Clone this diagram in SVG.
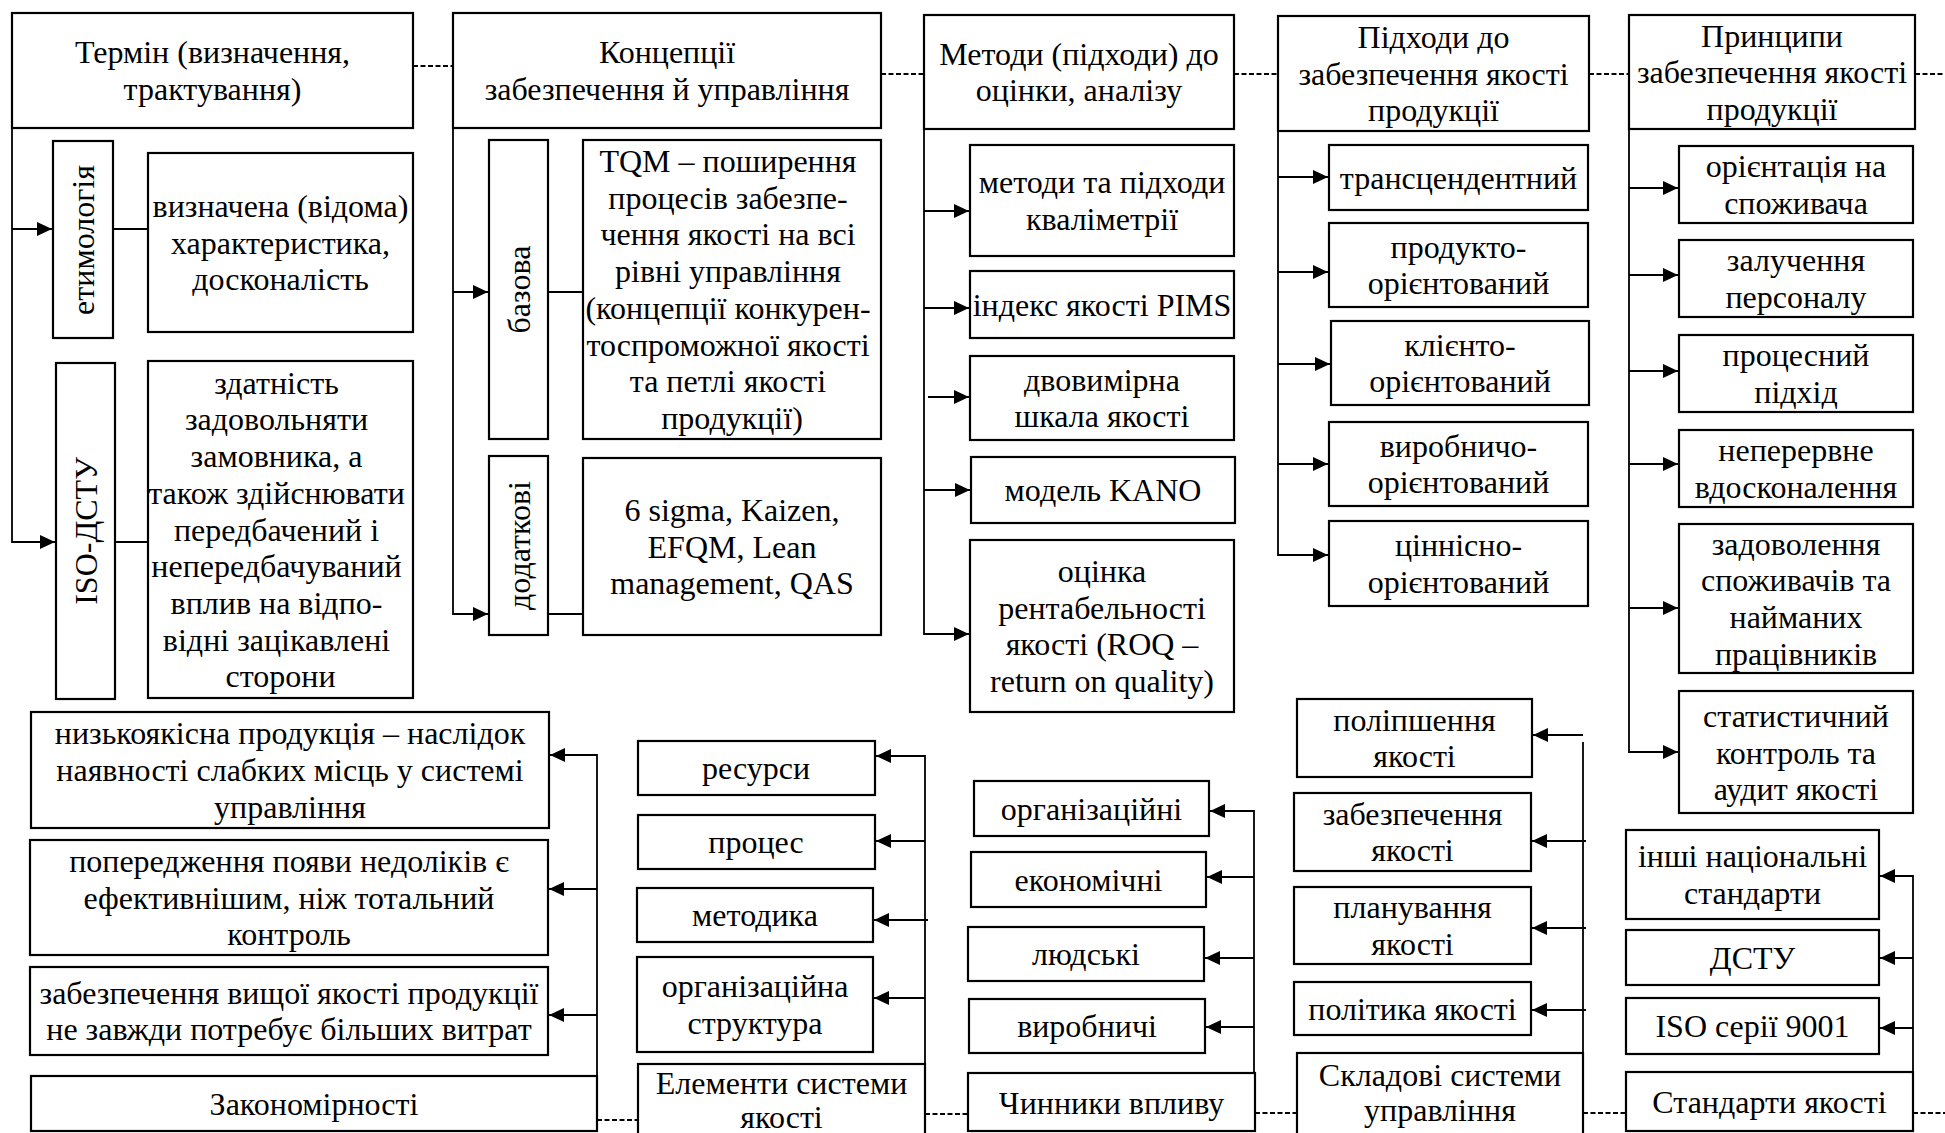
<svg xmlns="http://www.w3.org/2000/svg" width="1945" height="1133" viewBox="0 0 1945 1133">
  <defs>
    <style>
      .box { fill: #fff; stroke: #000; stroke-width: 2.2; }
      .t { font-family: "Liberation Serif", "Times New Roman", serif; font-size: 32px; text-anchor: middle; fill: #000; }
      .ln { fill: none; stroke: #000; stroke-width: 1.8; }
      .ar { fill: none; stroke: #000; stroke-width: 1.8; marker-end: url(#ah); }
      .dl { fill: none; stroke: #000; stroke-width: 1.8; stroke-dasharray: 5 2.5; }
    </style>
    <marker id="ah" viewBox="0 0 15 14" refX="15" refY="7" markerWidth="15" markerHeight="14" markerUnits="userSpaceOnUse" orient="auto">
      <path d="M0,0 L15,7 L0,14 z" fill="#000"/>
    </marker>
  </defs>
  <rect width="1945" height="1133" fill="#fff"/>

  <!-- connectors -->
  <g id="connectors">
    <!-- term -->
    <path class="ar" d="M12,128 V542 H55"/>
    <path class="ar" d="M12,229 H52"/>
    <path class="ln" d="M113,229 H148"/>
    <path class="ln" d="M115,542 H148"/>
    <!-- concepts -->
    <path class="ar" d="M453,128 V614 H488"/>
    <path class="ar" d="M453,292 H488"/>
    <path class="ln" d="M548,292 H583"/>
    <path class="ln" d="M548,614 H583"/>
    <!-- methods -->
    <path class="ar" d="M924,129 V634 H969"/>
    <path class="ar" d="M924,211 H969"/>
    <path class="ar" d="M924,308 H969"/>
    <path class="ar" d="M928,397 H969"/>
    <path class="ar" d="M924,490 H970"/>
    <!-- approaches -->
    <path class="ar" d="M1278,131 V555 H1328"/>
    <path class="ar" d="M1278,177 H1328"/>
    <path class="ar" d="M1278,272 H1328"/>
    <path class="ar" d="M1278,364 H1330"/>
    <path class="ar" d="M1278,464 H1328"/>
    <!-- principles -->
    <path class="ar" d="M1629,129 V752 H1678"/>
    <path class="ar" d="M1629,188 H1678"/>
    <path class="ar" d="M1629,275 H1678"/>
    <path class="ar" d="M1629,371 H1678"/>
    <path class="ar" d="M1629,464 H1678"/>
    <path class="ar" d="M1629,608 H1678"/>
    <!-- regularities -->
    <path class="ar" d="M597,1076 V755 H550"/>
    <path class="ar" d="M597,889 H549"/>
    <path class="ar" d="M597,1015 H549"/>
    <!-- system elements -->
    <path class="ar" d="M925,1064 V756 H876"/>
    <path class="ar" d="M925,841 H876"/>
    <path class="ar" d="M928,920 H874"/>
    <path class="ar" d="M925,998 H874"/>
    <!-- influence factors -->
    <path class="ar" d="M1254,1073 V811 H1210"/>
    <path class="ar" d="M1254,877 H1207"/>
    <path class="ar" d="M1254,958 H1205"/>
    <path class="ar" d="M1254,1027 H1206"/>
    <!-- management components -->
    <path class="ln" d="M1583,1053 V742"/>
    <path class="ar" d="M1583,735 H1533"/>
    <path class="ar" d="M1586,841 H1532"/>
    <path class="ar" d="M1586,928 H1532"/>
    <path class="ar" d="M1586,1010 H1532"/>
    <!-- standards -->
    <path class="ar" d="M1913,1072 V876 H1880"/>
    <path class="ar" d="M1913,958 H1880"/>
    <path class="ar" d="M1913,1028 H1880"/>
    <!-- dashed links between headings -->
    <path class="dl" d="M413,66 H453"/>
    <path class="dl" d="M881,74 H924"/>
    <path class="dl" d="M1234,74 H1278"/>
    <path class="dl" d="M1589,74 H1629"/>
    <path class="dl" d="M1915,74 H1945"/>
    <path class="dl" d="M597,1120 H638"/>
    <path class="dl" d="M925,1114 H968"/>
    <path class="dl" d="M1255,1113 H1297"/>
    <path class="dl" d="M1583,1113 H1626"/>
    <path class="dl" d="M1913,1113 H1945"/>
  </g>

  <!-- top row headings -->
  <g id="term">
    <rect class="box" x="12" y="13" width="401" height="115"/>
    <text class="t"><tspan x="212.5" y="63">Термін (визначення,</tspan><tspan x="212.5" y="100">трактування)</tspan></text>
  </g>
  <g id="concepts">
    <rect class="box" x="453" y="13" width="428" height="115"/>
    <text class="t"><tspan x="667" y="63">Концепції</tspan><tspan x="667" y="100">забезпечення й управління</tspan></text>
  </g>
  <g id="methods">
    <rect class="box" x="924" y="15" width="310" height="114"/>
    <text class="t"><tspan x="1079" y="65">Методи (підходи) до</tspan><tspan x="1079" y="101">оцінки, аналізу</tspan></text>
  </g>
  <g id="approaches">
    <rect class="box" x="1278" y="16" width="311" height="115"/>
    <text class="t"><tspan x="1433.5" y="48">Підходи до</tspan><tspan x="1433.5" y="84.5">забезпечення якості</tspan><tspan x="1433.5" y="121">продукції</tspan></text>
  </g>
  <g id="principles">
    <rect class="box" x="1629" y="15" width="286" height="114"/>
    <text class="t"><tspan x="1772" y="46.5">Принципи</tspan><tspan x="1772" y="83">забезпечення якості</tspan><tspan x="1772" y="119.5">продукції</tspan></text>
  </g>

  <!-- term branches -->
  <g id="etymology">
    <rect class="box" x="53" y="141" width="60" height="197"/>
    <text class="t" transform="translate(83,240) rotate(-90)" x="0" y="11">етимологія</text>
  </g>
  <g id="etymology-def">
    <rect class="box" x="148" y="153" width="265" height="179"/>
    <text class="t"><tspan x="280.5" y="217">визначена (відома)</tspan><tspan x="280.5" y="253.5">характеристика,</tspan><tspan x="280.5" y="290">досконалість</tspan></text>
  </g>
  <g id="iso-dstu">
    <rect class="box" x="56" y="363" width="59" height="336"/>
    <text class="t" transform="translate(85.5,531) rotate(-90)" x="0" y="11">ISO-ДСТУ</text>
  </g>
  <g id="iso-def">
    <rect class="box" x="148" y="361" width="265" height="337"/>
    <text class="t">
      <tspan x="280.5" y="393.7">здатність</tspan>
      <tspan x="280.5" y="430.4">задовольняти</tspan>
      <tspan x="280.5" y="467.1">замовника, а</tspan>
      <tspan x="280.5" y="503.8">також здійснювати</tspan>
      <tspan x="280.5" y="540.5">передбачений і</tspan>
      <tspan x="280.5" y="577.2">непередбачуваний</tspan>
      <tspan x="280.5" y="613.9">вплив на відпо-</tspan>
      <tspan x="280.5" y="650.6">відні зацікавлені</tspan>
      <tspan x="280.5" y="687.3">сторони</tspan>
    </text>
  </g>

  <!-- concept branches -->
  <g id="basic">
    <rect class="box" x="489" y="140" width="59" height="299"/>
    <text class="t" transform="translate(518.5,289.5) rotate(-90)" x="0" y="11">базова</text>
  </g>
  <g id="tqm">
    <rect class="box" x="583" y="140" width="298" height="299"/>
    <text class="t">
      <tspan x="732" y="172">TQM – поширення</tspan>
      <tspan x="732" y="208.7">процесів забезпе-</tspan>
      <tspan x="732" y="245.4">чення якості на всі</tspan>
      <tspan x="732" y="282.1">рівні управління</tspan>
      <tspan x="732" y="318.8">(концепції конкурен-</tspan>
      <tspan x="732" y="355.5">тоспроможної якості</tspan>
      <tspan x="732" y="392.2">та петлі якості</tspan>
      <tspan x="732" y="428.9">продукції)</tspan>
    </text>
  </g>
  <g id="additional">
    <rect class="box" x="489" y="456" width="59" height="179"/>
    <text class="t" transform="translate(518.5,545.5) rotate(-90)" x="0" y="11">додаткові</text>
  </g>
  <g id="additional-list">
    <rect class="box" x="583" y="458" width="298" height="177"/>
    <text class="t"><tspan x="732" y="521">6 sigma, Kaizen,</tspan><tspan x="732" y="557.5">EFQM, Lean</tspan><tspan x="732" y="594.2">management, QAS</tspan></text>
  </g>

  <!-- method branches -->
  <g id="qualimetry">
    <rect class="box" x="970" y="145" width="264" height="111"/>
    <text class="t"><tspan x="1102" y="193.2">методи та підходи</tspan><tspan x="1102" y="229.9">кваліметрії</tspan></text>
  </g>
  <g id="pims">
    <rect class="box" x="970" y="271" width="264" height="67"/>
    <text class="t" x="1102" y="315.5">індекс якості PIMS</text>
  </g>
  <g id="two-dim">
    <rect class="box" x="970" y="356" width="264" height="84"/>
    <text class="t"><tspan x="1102" y="390.7">двовимірна</tspan><tspan x="1102" y="427.4">шкала якості</tspan></text>
  </g>
  <g id="kano">
    <rect class="box" x="971" y="457" width="264" height="66"/>
    <text class="t" x="1103" y="501">модель KANO</text>
  </g>
  <g id="roq">
    <rect class="box" x="970" y="540" width="264" height="172"/>
    <text class="t"><tspan x="1102" y="582">оцінка</tspan><tspan x="1102" y="618.7">рентабельності</tspan><tspan x="1102" y="655.4">якості (ROQ –</tspan><tspan x="1102" y="692.1">return on quality)</tspan></text>
  </g>

  <!-- approach branches -->
  <g id="transcendent">
    <rect class="box" x="1329" y="145" width="259" height="65"/>
    <text class="t" x="1458.5" y="188.5">трансцендентний</text>
  </g>
  <g id="product-oriented">
    <rect class="box" x="1329" y="223" width="259" height="84"/>
    <text class="t"><tspan x="1458.5" y="257.7">продукто-</tspan><tspan x="1458.5" y="294.4">орієнтований</tspan></text>
  </g>
  <g id="client-oriented">
    <rect class="box" x="1331" y="321" width="258" height="84"/>
    <text class="t"><tspan x="1460" y="355.7">клієнто-</tspan><tspan x="1460" y="392.4">орієнтований</tspan></text>
  </g>
  <g id="production-oriented">
    <rect class="box" x="1329" y="422" width="259" height="84"/>
    <text class="t"><tspan x="1458.5" y="456.7">виробничо-</tspan><tspan x="1458.5" y="493.4">орієнтований</tspan></text>
  </g>
  <g id="value-oriented">
    <rect class="box" x="1329" y="521" width="259" height="85"/>
    <text class="t"><tspan x="1458.5" y="556.2">ціннісно-</tspan><tspan x="1458.5" y="592.9">орієнтований</tspan></text>
  </g>

  <!-- principle branches -->
  <g id="customer-focus">
    <rect class="box" x="1679" y="146" width="234" height="77"/>
    <text class="t"><tspan x="1796" y="177.2">орієнтація на</tspan><tspan x="1796" y="213.9">споживача</tspan></text>
  </g>
  <g id="engagement">
    <rect class="box" x="1679" y="240" width="234" height="77"/>
    <text class="t"><tspan x="1796" y="271.2">залучення</tspan><tspan x="1796" y="307.9">персоналу</tspan></text>
  </g>
  <g id="process-approach">
    <rect class="box" x="1679" y="335" width="234" height="77"/>
    <text class="t"><tspan x="1796" y="366.2">процесний</tspan><tspan x="1796" y="402.9">підхід</tspan></text>
  </g>
  <g id="improvement">
    <rect class="box" x="1679" y="430" width="234" height="77"/>
    <text class="t"><tspan x="1796" y="461.2">неперервне</tspan><tspan x="1796" y="497.9">вдосконалення</tspan></text>
  </g>
  <g id="satisfaction">
    <rect class="box" x="1679" y="524" width="234" height="149"/>
    <text class="t"><tspan x="1796" y="554.5">задоволення</tspan><tspan x="1796" y="591.2">споживачів та</tspan><tspan x="1796" y="627.9">найманих</tspan><tspan x="1796" y="664.6">працівників</tspan></text>
  </g>
  <g id="statistical-control">
    <rect class="box" x="1679" y="691" width="234" height="122"/>
    <text class="t"><tspan x="1796" y="726.8">статистичний</tspan><tspan x="1796" y="763.5">контроль та</tspan><tspan x="1796" y="800.2">аудит якості</tspan></text>
  </g>

  <!-- bottom row: regularities -->
  <g id="low-quality">
    <rect class="box" x="31" y="712" width="518" height="116"/>
    <text class="t"><tspan x="290" y="744.3">низькоякісна продукція – наслідок</tspan><tspan x="290" y="781">наявності слабких місць у системі</tspan><tspan x="290" y="817.7">управління</tspan></text>
  </g>
  <g id="prevention">
    <rect class="box" x="30" y="840" width="518" height="115"/>
    <text class="t"><tspan x="289" y="871.8">попередження появи недоліків є</tspan><tspan x="289" y="908.5">ефективнішим, ніж тотальний</tspan><tspan x="289" y="945.2">контроль</tspan></text>
  </g>
  <g id="higher-quality">
    <rect class="box" x="30" y="967" width="518" height="88"/>
    <text class="t"><tspan x="289" y="1003.7">забезпечення вищої якості продукції</tspan><tspan x="289" y="1040.4">не завжди потребує більших витрат</tspan></text>
  </g>
  <g id="regularities">
    <rect class="box" x="31" y="1076" width="566" height="55"/>
    <text class="t" x="314" y="1115">Закономірності</text>
  </g>

  <!-- bottom row: system elements -->
  <g id="resources">
    <rect class="box" x="638" y="741" width="237" height="54"/>
    <text class="t" x="756" y="779">ресурси</text>
  </g>
  <g id="process">
    <rect class="box" x="638" y="815" width="237" height="54"/>
    <text class="t" x="756" y="853">процес</text>
  </g>
  <g id="methodology">
    <rect class="box" x="637" y="888" width="236" height="54"/>
    <text class="t" x="755" y="926">методика</text>
  </g>
  <g id="org-structure">
    <rect class="box" x="637" y="957" width="236" height="95"/>
    <text class="t"><tspan x="755" y="997.2">організаційна</tspan><tspan x="755" y="1033.9">структура</tspan></text>
  </g>
  <g id="system-elements">
    <rect class="box" x="638" y="1064" width="287" height="80"/>
    <text class="t"><tspan x="781.5" y="1094">Елементи системи</tspan><tspan x="781.5" y="1128">якості</tspan></text>
  </g>

  <!-- bottom row: influence factors -->
  <g id="organizational">
    <rect class="box" x="974" y="781" width="235" height="55"/>
    <text class="t" x="1091.5" y="819.5">організаційні</text>
  </g>
  <g id="economic">
    <rect class="box" x="971" y="852" width="235" height="55"/>
    <text class="t" x="1088.5" y="890.5">економічні</text>
  </g>
  <g id="human">
    <rect class="box" x="968" y="927" width="236" height="54"/>
    <text class="t" x="1086" y="965">людські</text>
  </g>
  <g id="industrial">
    <rect class="box" x="969" y="999" width="236" height="54"/>
    <text class="t" x="1087" y="1037">виробничі</text>
  </g>
  <g id="influence-factors">
    <rect class="box" x="968" y="1073" width="287" height="58"/>
    <text class="t" x="1111.5" y="1114">Чинники впливу</text>
  </g>

  <!-- bottom row: management components -->
  <g id="improvement-q">
    <rect class="box" x="1297" y="699" width="235" height="78"/>
    <text class="t"><tspan x="1414.5" y="730.7">поліпшення</tspan><tspan x="1414.5" y="767.4">якості</tspan></text>
  </g>
  <g id="assurance-q">
    <rect class="box" x="1294" y="793" width="237" height="78"/>
    <text class="t"><tspan x="1412.5" y="824.7">забезпечення</tspan><tspan x="1412.5" y="861.4">якості</tspan></text>
  </g>
  <g id="planning-q">
    <rect class="box" x="1294" y="887" width="237" height="77"/>
    <text class="t"><tspan x="1412.5" y="918.2">планування</tspan><tspan x="1412.5" y="954.9">якості</tspan></text>
  </g>
  <g id="policy-q">
    <rect class="box" x="1294" y="982" width="237" height="53"/>
    <text class="t" x="1412.5" y="1019.5">політика якості</text>
  </g>
  <g id="management-components">
    <rect class="box" x="1297" y="1053" width="286" height="90"/>
    <text class="t"><tspan x="1440" y="1086">Складові системи</tspan><tspan x="1440" y="1121">управління</tspan></text>
  </g>

  <!-- bottom row: standards -->
  <g id="other-national">
    <rect class="box" x="1626" y="830" width="253" height="89"/>
    <text class="t"><tspan x="1752.5" y="867.2">інші національні</tspan><tspan x="1752.5" y="903.9">стандарти</tspan></text>
  </g>
  <g id="dstu">
    <rect class="box" x="1626" y="930" width="253" height="55"/>
    <text class="t" x="1752.5" y="968.5">ДСТУ</text>
  </g>
  <g id="iso-9001">
    <rect class="box" x="1626" y="998" width="253" height="56"/>
    <text class="t" x="1752.5" y="1037">ISO серії 9001</text>
  </g>
  <g id="quality-standards">
    <rect class="box" x="1626" y="1072" width="287" height="59"/>
    <text class="t" x="1769.5" y="1113">Стандарти якості</text>
  </g>
</svg>
